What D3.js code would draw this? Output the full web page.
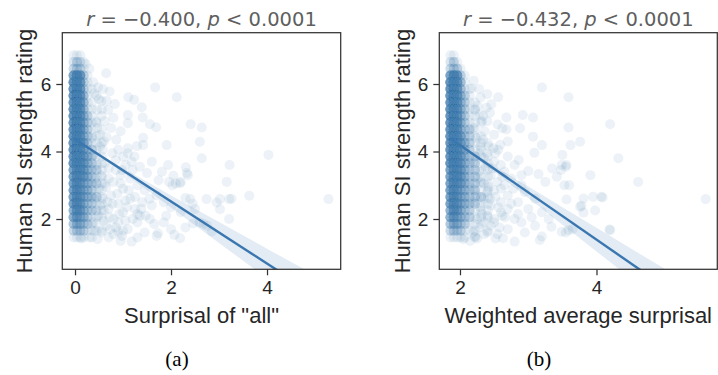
<!DOCTYPE html>
<html><head><meta charset="utf-8">
<script src="https://cdn.jsdelivr.net/npm/d3@7"></script>
<style>body{margin:0;background:#fff}svg{display:block}</style>
</head><body><svg id="c" width="718" height="375"></svg>
<script>
// ---------- DATA ----------
const rValues = [-0.400, -0.432];
const pLabel = "< 0.0001";
const xLabels = ['Surprisal of "all"', 'Weighted average surprisal'];
const yLabel = "Human SI strength rating";
const captions = ["(a)", "(b)"];
const xTicksA = [0, 2, 4];
const xTicksB = [2, 4];
const yTicks = [2, 4, 6];

// dense core: number of observations at (column x, row y)
const coreRowsY = [6.85,6.65,6.45,6.25,6.05,5.85,5.65,5.45,5.25,5.05,4.85,4.65,4.45,4.25,4.05,3.85,3.65,3.45,3.25,3.05,2.85,2.65,2.45,2.25,2.05,1.85,1.65,1.45];
const coreColsA = [-0.03,0.04,0.11,0.18,0.26,0.35,0.45,0.56];
const coreCountsA = [
 [1,1,1,0,0,0,0,0],[2,3,2,1,0,0,0,0],[3,3,3,1,0,0,0,0],[11,15,11,3,1,0,0,0],
 [15,15,11,3,1,0,0,0],[15,15,11,3,1,1,0,0],[15,15,11,5,1,0,1,0],[15,15,11,5,1,1,0,0],
 [15,15,11,5,1,1,0,1],[15,15,11,5,3,1,0,0],[15,15,11,5,3,1,1,0],[15,15,11,5,3,1,0,1],
 [15,15,11,5,3,1,1,0],[15,15,11,8,3,1,1,1],[15,15,11,8,3,3,1,0],[15,15,11,8,5,3,1,1],
 [15,15,11,8,5,3,1,1],[11,11,11,8,5,3,3,1],[11,11,8,8,5,3,1,1],[11,11,8,5,5,3,3,1],
 [11,11,8,5,5,3,1,1],[11,11,8,5,5,3,3,1],[11,11,8,5,3,3,1,1],[8,11,8,5,3,3,1,1],
 [8,8,5,5,3,1,1,1],[5,5,5,3,3,1,1,0],[3,3,3,3,1,1,1,1],[1,1,1,1,0,1,0,0]];
const coreColsB = [1.86,1.91,1.96,2.01,2.07,2.14,2.22,2.31,2.41];
const coreCountsB = [
 [1,1,0,0,0,0,0,0,0],[2,3,1,0,0,0,0,0,0],[3,3,3,1,0,0,0,0,0],[11,15,11,3,1,0,0,0,0],
 [15,15,11,5,1,0,0,0,0],[15,15,11,5,1,1,0,0,0],[15,15,11,5,3,1,0,0,0],[15,15,11,5,3,1,1,0,0],
 [15,15,11,5,3,1,1,0,0],[15,15,11,5,3,1,1,0,0],[15,15,11,5,3,1,1,1,0],[15,15,11,5,3,3,1,0,0],
 [15,15,11,8,3,3,1,1,0],[15,15,11,8,5,3,1,1,1],[15,15,11,8,5,3,1,1,0],[15,15,11,8,5,3,3,1,1],
 [15,15,11,8,5,3,3,1,1],[11,11,11,8,5,3,3,1,1],[11,11,11,8,5,3,3,1,1],[11,11,8,8,5,3,3,1,1],
 [11,11,8,5,5,3,3,1,1],[11,11,8,5,5,3,3,3,1],[11,11,8,5,5,3,3,1,1],[8,11,8,5,3,3,1,1,1],
 [8,8,5,5,3,3,1,1,1],[5,5,5,3,3,1,1,1,0],[3,3,3,3,1,1,1,0,1],[1,1,1,1,1,0,1,0,0]];

// scattered observations [x, y]
const sparseA = [
 [0.65,6.32],[0.30,6.45],[0.22,6.6],[0.48,5.9],[0.58,5.85],[0.40,5.72],[0.72,5.78],[0.83,5.41],[0.69,5.23],[0.46,5.23],
 [0.55,5.5],[1.11,5.61],[1.23,5.53],[1.39,5.31],[1.41,5.01],[1.10,5.08],[1.10,4.84],[1.67,5.90],[2.12,5.61],[1.56,4.81],
 [1.69,4.72],[2.41,4.81],[2.64,4.71],[2.60,4.29],[1.91,4.19],[1.42,4.41],[1.42,4.19],[1.29,4.16],[0.66,4.42],[0.52,4.15],
 [0.86,4.35],[0.90,4.05],[1.00,3.85],[1.10,4.10],[1.24,3.85],[0.75,4.7],[0.62,4.9],[0.95,4.6],[0.8,5.0],
 [4.03,3.90],[3.22,3.60],[2.64,3.80],[2.31,3.53],[2.35,3.30],[1.94,3.60],[2.33,3.36],[2.05,3.28],[1.81,3.40],[1.74,3.15],
 [1.96,3.10],[2.10,3.05],[2.20,3.10],[3.16,3.10],[1.50,3.36],[1.35,3.55],[1.6,3.7],[1.2,3.45],[1.05,3.6],[0.85,3.75],
 [0.7,3.5],[0.95,3.3],[1.15,3.2],[1.3,3.0],[1.45,2.85],[0.8,3.1],[0.65,2.95],[1.0,2.9],
 [5.28,2.59],[3.63,2.69],[3.21,2.59],[3.02,2.59],[2.74,2.59],[2.40,2.59],[2.30,2.62],[2.95,2.49],[3.26,2.60],[3.02,2.29],
 [3.21,2.00],[2.19,3.06],[2.03,3.00],[2.6,1.9],[2.75,1.8],[2.68,1.85],[2.19,1.43],[2.07,1.53],[1.73,1.58],[1.70,1.50],
 [1.85,1.90],[1.47,2.10],[1.56,2.00],[1.18,1.33],[0.98,1.50],[1.10,1.70],[1.30,1.90],[1.35,2.10],[0.70,1.45],[0.47,1.40],
 [0.13,1.42],[2.46,1.87],[2.85,1.63],[2.5,2.3],[2.45,2.45],[2.2,2.2],[2.0,2.35],[1.85,2.5],[1.7,2.7],[1.6,2.4],
 [1.4,2.5],[1.25,2.3],[1.15,2.6],[1.0,2.2],[0.9,2.45],[0.8,2.0],[0.75,2.7],[0.65,1.8],[0.6,2.25],[0.85,1.75],
 [1.05,1.95],[1.2,2.0],[1.9,2.1],[1.65,1.85],[1.45,1.6],[1.3,1.45],[0.55,1.6],[0.3,1.45],[0.95,1.35],[2.3,1.75],[2.0,1.7],
 [0.38,3.9],[0.45,3.6],[0.55,3.3],[0.62,3.65],[0.5,2.9],[0.4,2.6],[0.58,2.6],[0.7,2.3],[0.48,2.1],[0.38,1.9],
 [0.72,2.05],[0.9,1.9],[0.88,2.75],[1.05,2.55],[0.7,3.2],[0.42,3.2],[0.52,4.5],[0.44,4.9],[0.6,4.3],[0.35,4.4],
 [0.78,3.95],[0.98,3.45],[1.12,2.85],[1.25,2.65],[0.6,1.95],[0.4,1.65],[0.8,1.55],[1.0,1.65],[0.5,5.55],[0.38,6.05],
 [0.62,3.05],[0.78,2.45],[0.92,2.15],[1.08,2.35],[0.68,2.5],[0.52,2.4],[0.85,3.45],[1.18,3.7],[0.58,4.05],[0.46,4.7],
 [0.73,1.7],[1.38,2.3],[1.55,2.6],[1.3,2.15],[0.95,3.05],[1.1,3.95],[0.66,5.5],[0.55,5.05],[0.44,2.25],[0.9,1.62]];
const sparseB = [
 [3.20,5.90],[3.59,5.61],[2.56,5.61],[2.17,5.87],[2.92,5.08],[3.07,5.01],[2.68,5.01],[4.20,4.81],[3.59,4.71],[2.88,4.69],
 [2.62,4.69],[3.07,4.44],[3.76,4.29],[3.62,4.19],[3.20,4.19],[4.32,3.80],[3.50,3.90],[3.09,3.96],[3.49,3.60],[3.56,3.60],
 [3.35,3.50],[3.91,3.30],[4.61,3.10],[3.60,3.00],[3.25,3.10],[3.42,3.25],[3.15,3.33],[3.00,3.42],[2.22,5.23],[2.29,5.10],
 [2.39,5.30],[2.46,5.40],[2.49,4.10],[2.59,4.20],[2.34,4.35],[2.24,4.40],[3.55,3.55],[3.48,3.45],
 [5.60,2.59],[4.20,1.67],[4.07,2.66],[3.95,2.66],[3.81,2.61],[3.76,2.36],[3.98,2.25],[3.56,2.58],[3.53,3.00],[3.59,1.67],
 [3.49,1.62],[3.34,1.77],[3.20,1.48],[3.17,1.38],[2.80,1.33],[2.63,1.43],[2.90,1.90],[2.80,2.00],[2.60,2.20],[2.45,2.40],
 [2.05,1.40],[2.15,1.35],[2.25,1.42],[4.09,2.64],[3.78,2.39],[3.81,2.19],[3.55,1.60],[3.65,1.70],[4.19,1.69],
 [2.35,3.8],[2.5,3.7],[2.7,3.85],[2.8,3.6],[2.65,3.4],[2.45,3.3],[2.55,3.1],[2.75,3.2],[2.9,3.0],[2.6,2.9],
 [2.4,2.8],[2.7,2.7],[2.85,2.5],[3.0,2.3],[3.1,2.6],[2.95,2.8],[3.2,2.2],[3.3,2.0],[3.1,1.8],[2.95,1.6],
 [2.7,1.7],[2.5,1.9],[2.4,2.1],[2.6,2.5],[2.35,2.6],[2.55,1.55],[2.4,1.6],[2.7,2.3],[2.85,2.15],[3.05,2.05],
 [2.3,3.1],[2.5,4.5],[2.7,4.3],[2.4,4.9],[2.55,4.8],[2.3,5.6],[2.4,5.7],
 [2.2,3.7],[2.28,3.4],[2.35,3.05],[2.2,2.9],[2.3,2.35],[2.25,2.0],[2.45,1.8],[2.35,1.55],[2.2,1.6],[2.52,2.65],
 [2.48,3.5],[2.6,3.6],[2.28,3.95],[2.42,4.15],[2.2,4.7],[2.32,4.9],[2.26,5.35],[2.62,2.1],[2.65,3.0],[2.42,2.95],
 [2.75,2.45],[2.58,1.75],[2.2,2.5],[2.5,2.0],[2.68,4.65],[2.2,6.1],[2.28,5.85],[2.36,4.6],[2.52,3.95],[2.9,3.3],
 [2.26,3.2],[2.38,3.55],[2.24,2.7],[2.32,2.15],[2.44,2.6],[2.56,2.35],[2.36,1.9],[2.28,1.75],[2.5,2.85],[2.62,3.25],
 [2.4,3.95],[2.3,4.15],[2.56,4.05],[2.34,5.05],[2.44,5.15],[2.78,2.9],[2.66,2.05],[2.52,1.42],[2.22,1.48],[2.86,3.75]];

// regression fits: [intercept, slope], x range of the line
const fitA = [4.36, -0.92], fitRangeA = [-0.035, 5.28];
const fitB = [6.99, -1.40], fitRangeB = [1.854, 5.60];
// 95% CI half-widths along x
const ciXA = [-0.035, 0.45, 1.0, 2.0, 3.0, 4.0, 5.28];
const ciHalfA = [0.07, 0.04, 0.07, 0.18, 0.31, 0.44, 0.62];
const ciXB = [1.854, 2.1, 2.5, 3.0, 3.5, 4.0, 4.6, 5.6];
const ciHalfB = [0.06, 0.04, 0.09, 0.17, 0.26, 0.35, 0.46, 0.65];

// ---------- DRAWING ----------
const svg = d3.select("#c");
const col = "#4682b4", lineCol = "#3a76af";
const fmt = d3.format(".3f");
const sans = "'Liberation Sans', Arial, sans-serif";

const panels = [
 {core: coreCountsA, cols: coreColsA, sparse: sparseA, fit: fitA, range: fitRangeA, ciX: ciXA, ciH: ciHalfA,
  xd: [-0.265, 5.535], xr: [62.3, 340.7], xt: xTicksA, r: rValues[0], xl: xLabels[0], cap: captions[0], capX: 177, ylX: 24},
 {core: coreCountsB, cols: coreColsB, sparse: sparseB, fit: fitB, range: fitRangeB, ciX: ciXB, ciH: ciHalfB,
  xd: [1.697, 5.77], xr: [439.3, 717.3], xt: xTicksB, r: rValues[1], xl: xLabels[1], cap: captions[1], capX: 539, ylX: 402}
];
const yr = [269.3, 32.7], yd = [0.51, 7.52];

panels.forEach((P, i) => {
  const x = d3.scaleLinear().domain(P.xd).range(P.xr);
  const y = d3.scaleLinear().domain(yd).range(yr);
  const g = svg.append("g");
  const cid = "clip" + i;
  svg.append("clipPath").attr("id", cid).append("rect")
    .attr("x", P.xr[0]).attr("y", yr[1]).attr("width", P.xr[1] - P.xr[0]).attr("height", yr[0] - yr[1]);
  const plot = g.append("g").attr("clip-path", `url(#${cid})`);

  const pts = [];
  P.core.forEach((row, ri) => row.forEach((n, ci) => { for (let k = 0; k < n; k++) pts.push([P.cols[ci], coreRowsY[ri]]); }));
  P.sparse.forEach(d => pts.push(d));
  plot.selectAll("circle.pt").data(pts).join("circle").attr("class", "pt")
    .attr("cx", d => x(d[0])).attr("cy", d => y(d[1])).attr("r", 5)
    .attr("fill", col).attr("fill-opacity", 0.1);

  const f = xv => P.fit[0] + P.fit[1] * xv;
  const band = P.ciX.map((xv, k) => ({x: xv, lo: f(xv) - P.ciH[k], hi: f(xv) + P.ciH[k]}));
  plot.append("path").datum(band)
    .attr("d", d3.area().x(d => x(d.x)).y0(d => y(d.lo)).y1(d => y(d.hi)).curve(d3.curveMonotoneX))
    .attr("fill", col).attr("fill-opacity", 0.15);
  plot.append("path").datum(P.range.map(xv => [xv, f(xv)]))
    .attr("d", d3.line().x(d => x(d[0])).y(d => y(d[1])))
    .attr("stroke", lineCol).attr("stroke-width", 2.4).attr("fill", "none");

  const ax = g.append("g").attr("transform", `translate(0,${yr[0]})`)
    .call(d3.axisBottom(x).tickValues(P.xt).tickFormat(d3.format("d")).tickSize(6).tickPadding(5));
  const ay = g.append("g").attr("transform", `translate(${P.xr[0]},0)`)
    .call(d3.axisLeft(y).tickValues(yTicks).tickFormat(d3.format("d")).tickSize(6).tickPadding(5));
  [ax, ay].forEach(a => {
    a.select(".domain").remove();
    a.selectAll("line").attr("stroke", "#333").attr("stroke-width", 1.25);
    a.selectAll("text").attr("fill", "#262626").style("font-family", sans).style("font-size", "19px");
  });
  g.append("rect").attr("x", P.xr[0]).attr("y", yr[1]).attr("width", P.xr[1] - P.xr[0]).attr("height", yr[0] - yr[1])
    .attr("fill", "none").attr("stroke", "#333").attr("stroke-width", 1.25);

  const cx = (P.xr[0] + P.xr[1]) / 2;
  const t = g.append("text").attr("x", cx).attr("y", 25.5).attr("text-anchor", "middle")
    .attr("fill", "#5f5f5f").style("font-family", "'DejaVu Sans', sans-serif").style("font-size", "19.5px");
  t.append("tspan").style("font-style", "italic").text("r");
  t.append("tspan").text(" = " + fmt(P.r) + ", ");
  t.append("tspan").style("font-style", "italic").text("p");
  t.append("tspan").text(" " + pLabel);

  g.append("text").attr("x", cx).attr("y", 322.5).attr("text-anchor", "middle")
    .attr("fill", "#262626").style("font-family", sans).style("font-size", "22px")
    .text(P.xl);
  g.append("text").attr("transform", `translate(${P.ylX + 7.5},151) rotate(-90)`).attr("text-anchor", "middle")
    .attr("fill", "#262626").style("font-family", sans).style("font-size", "22px")
    .text(yLabel);
  g.append("text").attr("x", P.capX).attr("y", 366).attr("text-anchor", "middle")
    .attr("fill", "#000").style("font-family", "'Liberation Serif', 'Times New Roman', serif").style("font-size", "21px")
    .text(P.cap);
});
</script></body></html>
